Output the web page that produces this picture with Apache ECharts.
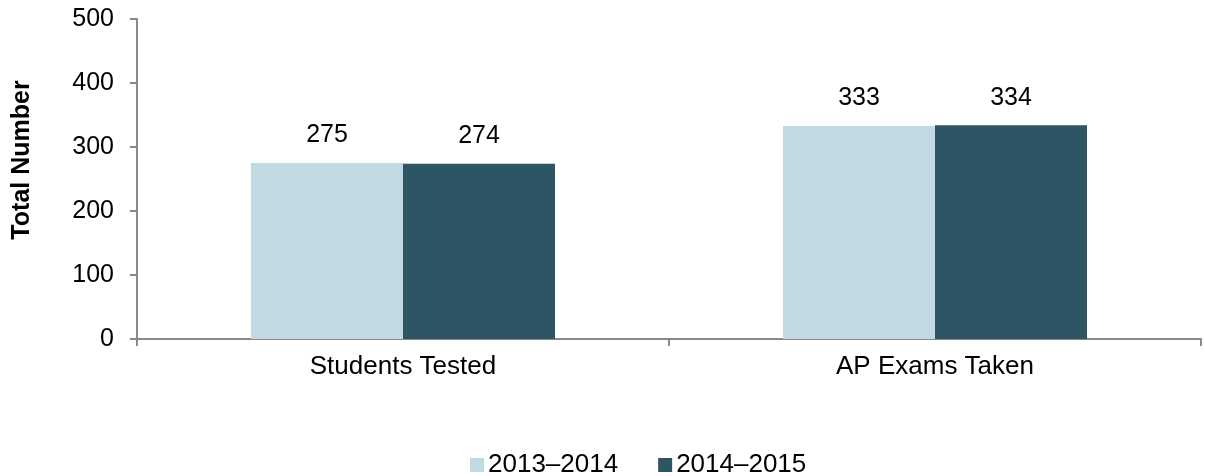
<!DOCTYPE html>
<html>
<head>
<meta charset="utf-8">
<script src="https://cdn.jsdelivr.net/npm/echarts@6/dist/echarts.min.js"></script>
<style>
  html, body { margin: 0; padding: 0; background: #fff; }
  #chart { width: 1205px; height: 476px; }
</style>
</head>
<body>
<div id="chart"></div>
<script>
var categories = ['Students Tested', 'AP Exams Taken'];
var seriesNames = ['2013–2014', '2014–2015'];
var values2013 = [275, 333];
var values2014 = [274, 334];
var yTicks = [0, 100, 200, 300, 400, 500];

var FONT = 'Liberation Sans, Arial, sans-serif';
var chart = echarts.init(document.getElementById('chart'));

var option = {
    animation: false,
    textStyle: { fontFamily: FONT },
    grid: { left: 137, right: 4, top: 19, bottom: 137, containLabel: false },
    legend: {
        data: seriesNames,
        left: 465,
        top: 447,
        itemWidth: 14,
        itemHeight: 14,
        itemGap: 40,
        icon: 'rect',
        textStyle: { fontFamily: FONT, fontSize: 26, color: '#000', padding: [0, 0, 0, -1] }
    },
    // axis title, centred where the reference puts it
    graphic: [{
        type: 'text',
        x: 22,
        y: 160,
        rotation: Math.PI / 2,
        style: {
            text: 'Total Number',
            font: 'bold 25px ' + FONT,
            fill: '#000',
            align: 'center',
            verticalAlign: 'middle'
        }
    }],
    xAxis: {
        type: 'category',
        data: categories,
        axisLine: { lineStyle: { color: '#898989', width: 2 } },
        axisTick: { show: true, length: 7, lineStyle: { color: '#898989', width: 2 } },
        axisLabel: { color: '#000', fontSize: 26, fontFamily: FONT, margin: 15 }
    },
    yAxis: {
        type: 'value',
        min: yTicks[0],
        max: yTicks[yTicks.length - 1],
        interval: 100,
        axisLine: { show: true, lineStyle: { color: '#898989', width: 2 } },
        axisTick: { show: true, length: 7, lineStyle: { color: '#898989', width: 2 } },
        splitLine: { show: false },
        axisLabel: { color: '#000', fontSize: 25, fontFamily: FONT, margin: 23 }
    },
    series: [
        {
            name: seriesNames[0],
            type: 'bar',
            data: values2013,
            barWidth: 152,
            barGap: '0%',
            itemStyle: { color: '#C1D9E3' },
            label: { show: true, position: 'top', distance: 15, color: '#000', fontSize: 25, fontFamily: FONT }
        },
        {
            name: seriesNames[1],
            type: 'bar',
            data: values2014,
            barWidth: 152,
            barGap: '0%',
            itemStyle: { color: '#2E5563' },
            label: { show: true, position: 'top', distance: 15, color: '#000', fontSize: 25, fontFamily: FONT }
        }
    ]
};
chart.setOption(option);
</script>
</body>
</html>
